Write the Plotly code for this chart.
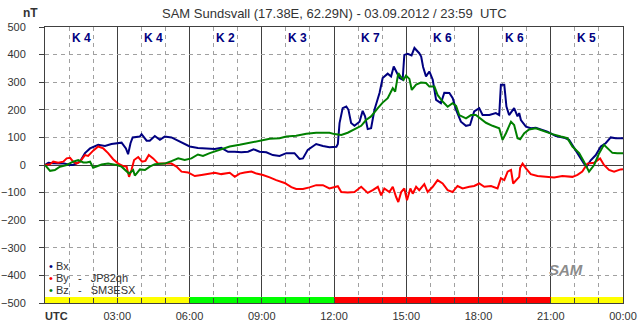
import plotly.graph_objects as go

# ---------------- data (hours UTC, nT) ----------------
bx_t = [0,0.14,0.33,0.8,1.04,1.16,1.45,1.66,1.87,2.21,2.49,2.76,3.18,3.36,3.45,3.55,3.64,3.94,4.01,4.22,4.35,4.56,4.77,4.97,5.25,5.46,5.73,6.01,6.35,6.70,7.05,7.32,7.60,7.88,8.15,8.43,8.66,8.91,9.19,9.46,9.74,10.02,10.36,10.57,10.71,10.91,11.26,11.54,11.81,12.10,12.16,12.23,12.36,12.51,12.60,12.71,12.85,13.06,13.19,13.29,13.40,13.54,13.68,13.89,14.02,14.23,14.37,14.48,14.58,14.72,14.85,14.92,15.06,15.22,15.34,15.54,15.62,15.70,15.82,15.96,16.10,16.24,16.44,16.58,16.79,16.93,17.07,17.27,17.48,17.65,17.82,18.03,18.17,18.45,18.72,18.86,18.93,19.07,19.16,19.27,19.48,19.62,19.69,19.76,19.97,20.17,20.38,20.59,20.86,21.21,21.55,21.76,21.97,22.18,22.38,22.49,22.66,22.87,23.08,23.28,23.49,23.70,24.0]
bx_v = [0,8,6,5,0,0,12,43,60,73,69,76,81,60,39,79,100,103,112,88,88,105,91,103,100,91,79,67,62,60,58,62,48,48,46,48,57,48,46,36,33,43,43,22,24,55,76,69,64,66,76,152,206,212,200,152,142,157,196,176,130,133,200,261,315,331,321,357,339,315,309,399,403,397,424,405,393,355,321,339,309,236,224,262,261,242,200,157,142,145,194,206,181,181,188,181,291,291,212,181,206,176,188,163,139,133,135,130,121,105,99,91,60,33,5,-6,17,36,67,79,100,97,97]

by_t = [0,0.21,0.34,0.55,0.76,0.90,1.04,1.17,1.31,1.45,1.66,1.79,2.00,2.21,2.42,2.62,2.83,3.04,3.25,3.39,3.49,3.59,3.70,3.87,4.03,4.17,4.31,4.49,4.70,4.97,5.25,5.46,5.67,5.94,6.22,6.50,6.77,7.05,7.32,7.67,7.88,8.08,8.29,8.57,8.78,9.05,9.33,9.60,9.95,10.23,10.43,10.71,10.98,11.26,11.54,11.81,12.16,12.30,12.57,12.85,13.13,13.40,13.61,13.82,13.96,14.09,14.30,14.44,14.58,14.67,14.79,14.92,15.03,15.17,15.27,15.41,15.54,15.75,15.89,16.10,16.30,16.51,16.72,16.92,17.13,17.34,17.62,17.82,18.03,18.24,18.52,18.79,18.93,19.07,19.21,19.35,19.44,19.58,19.69,19.73,19.83,19.97,20.17,20.45,20.86,21.14,21.48,21.90,22.11,22.31,22.52,22.80,23.05,23.21,23.42,23.63,23.90,24.0]
by_v = [0,3,12,8,12,24,26,12,5,12,36,33,52,67,60,43,21,5,-4,-6,-43,-18,18,29,12,15,36,24,5,5,5,-6,-24,-27,-40,-36,-31,-28,-33,-28,-43,-31,-27,-24,-31,-36,-45,-55,-65,-80,-87,-87,-81,-73,-73,-85,-77,-98,-100,-98,-79,-101,-91,-79,-110,-85,-98,-79,-116,-134,-98,-85,-128,-85,-104,-79,-91,-69,-98,-79,-55,-67,-91,-98,-76,-85,-79,-76,-67,-79,-76,-85,-48,-55,-24,-18,-67,-55,-43,-10,5,-12,-33,-40,-43,-45,-40,-43,-36,-24,5,8,24,0,-18,-24,-16,-15]

bz_t = [0,0.21,0.41,0.62,0.90,1.17,1.38,1.59,1.73,1.87,2.00,2.14,2.35,2.62,2.97,3.18,3.36,3.49,3.66,3.73,3.80,3.94,4.15,4.35,4.56,4.97,5.25,5.53,5.80,6.08,6.35,6.56,6.84,7.12,7.39,7.67,8.08,8.50,8.91,9.33,9.74,10.02,10.43,10.85,11.26,11.81,12.02,12.30,12.57,12.85,13.13,13.33,13.54,13.82,14.02,14.23,14.44,14.54,14.67,14.76,14.89,14.99,15.13,15.23,15.41,15.61,15.82,15.96,16.17,16.30,16.51,16.72,16.92,17.07,17.20,17.48,17.69,17.89,18.10,18.31,18.58,18.86,19.00,19.14,19.35,19.48,19.62,19.73,19.90,20.10,20.38,20.73,21.07,21.42,21.69,21.90,22.18,22.38,22.59,22.80,23.01,23.21,23.35,23.56,23.76,24.0]
bz_v = [0,-21,-18,-6,0,12,18,9,9,12,-10,-6,2,5,0,-6,-21,-31,-18,-38,-31,-16,-18,-6,3,5,14,24,18,24,38,33,43,52,60,67,73,81,88,95,97,103,106,113,117,117,112,109,117,129,142,163,176,206,226,242,278,266,333,321,309,324,312,272,291,299,297,284,284,254,230,211,224,214,181,169,181,181,166,153,142,133,91,115,157,145,97,93,115,129,133,121,112,103,97,67,43,12,-24,0,43,73,60,44,43,43]

k_index = [4, 4, 2, 3, 7, 6, 6, 5]
k_centers = [1.5, 4.5, 7.5, 10.5, 13.5, 16.5, 19.5, 22.5]
x_tickvals = [0, 3, 6, 9, 12, 15, 18, 21, 24]
x_ticktext = ["", "03:00", "06:00", "09:00", "12:00", "15:00", "18:00", "21:00", "00:00"]
x_origin_label = "UTC"

series_names = ["Bx", "By", "Bz"]
series_labels = ["Bx", "By\u00a0\u00a0\u00a0-\u00a0\u00a0\u00a0JP82qh", "Bz\u00a0\u00a0\u00a0-\u00a0\u00a0\u00a0SM3ESX"]
series_colors = ["#000080", "#FF0000", "#008000"]

title_text = "SAM Sundsvall (17.38E, 62.29N) - 03.09.2012 / 23:59\u00a0\u00a0UTC"

# ---------------- figure ----------------
FONT = "Arial, Liberation Sans, sans-serif"
DARK = "#404040"
GRID = "#a0a0a0"

def k_color(k):
    if k <= 3:
        return "#00FF00"
    if k <= 5:
        return "#FFFF00"
    return "#FF0000"

fig = go.Figure()

# activity bar along the bottom
fig.add_trace(go.Bar(
    x=k_centers, y=[22] * len(k_index), base=-500, width=3,
    marker=dict(color=[k_color(k) for k in k_index], line=dict(width=0)),
    hoverinfo="skip", showlegend=False,
))

for t, v, name, col in zip([bx_t, by_t, bz_t], [bx_v, by_v, bz_v], series_names, series_colors):
    fig.add_trace(go.Scatter(x=t, y=v, mode="lines", name=name,
                             line=dict(color=col, width=2), showlegend=False))

fig.update_layout(
    template="none",
    width=643, height=331,
    margin=dict(l=45, r=20, t=27, b=28, autoexpand=False),
    plot_bgcolor="white", paper_bgcolor="white",
    showlegend=False, bargap=0,
    font=dict(family=FONT, size=11, color="#333333"),
)

fig.update_xaxes(
    automargin=False,
    range=[0, 24], tickmode="array", tickvals=x_tickvals, ticktext=x_ticktext,
    tickfont=dict(size=11, color="#333333", family=FONT),
    showgrid=True, gridcolor=DARK, gridwidth=1,
    ticks="inside", ticklen=5, tickcolor=DARK,
    showline=True, linecolor=DARK, linewidth=1, mirror=True,
    zeroline=False, ticklabelstandoff=3,
    minor=dict(tickmode="linear", tick0=0, dtick=1, showgrid=True,
               gridcolor=GRID, griddash="4px,4px", gridwidth=1,
               ticks="inside", ticklen=5, tickcolor=DARK),
)
fig.update_yaxes(
    automargin=False,
    range=[-500, 500], tickmode="linear", tick0=0, dtick=100,
    tickfont=dict(size=11, color="#333333", family=FONT),
    showgrid=True, gridcolor=GRID, griddash="4px,4px", gridwidth=1,
    zeroline=True, zerolinecolor=DARK, zerolinewidth=1,
    ticks="outside", ticklen=5, tickcolor=DARK,
    showline=True, linecolor=DARK, linewidth=1, mirror=True,
    ticklabelstandoff=11,
)

# "UTC" label at the origin, left-aligned with the axis
fig.add_annotation(x=0, y=0, xref="x", yref="paper", xanchor="left", yanchor="top",
                   xshift=-2, yshift=-5, text=f"<b>{x_origin_label}</b>", showarrow=False,
                   font=dict(size=11, color="#333333", family=FONT))

# K labels
for xc, k in zip(k_centers, k_index):
    fig.add_annotation(x=xc, y=1, xref="x", yref="paper", yanchor="top", yshift=-2,
                       text=f"<b>K {k}</b>", showarrow=False,
                       font=dict(size=12, color="#000080", family=FONT))

# title & unit
fig.add_annotation(x=0.5, y=1.0507, xref="paper", yref="paper", yanchor="middle",
                   text=title_text, showarrow=False,
                   font=dict(size=13, color="#333333", family=FONT))
fig.add_annotation(x=-0.0415, y=1.0507, xref="paper", yref="paper", yanchor="middle",
                   text="<b>nT</b>", showarrow=False,
                   font=dict(size=12, color="#333333", family=FONT))

# legend
leg_y = [0.134, 0.091, 0.046]
for yy, lab, col in zip(leg_y, series_labels, series_colors):
    fig.add_annotation(x=0.004, y=yy, xref="paper", yref="paper", xanchor="left", yanchor="middle",
                       text=f"<span style='color:{col}'>\u2022</span> {lab}", showarrow=False,
                       font=dict(size=11, color="#333333", family=FONT))

# logo
fig.add_annotation(x=0.934, y=0.083, xref="paper", yref="paper",
                   text="<b><i>SAM</i></b>", showarrow=False,
                   font=dict(size=15, color="#8c8c8c", family=FONT))

fig.write_html("out.html", config={"displayModeBar": False},
               post_script="document.body.style.margin='0';")
